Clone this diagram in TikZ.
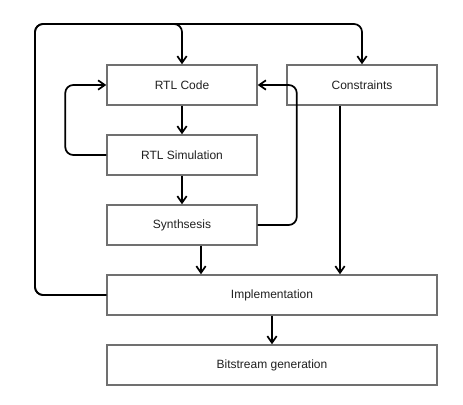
\documentclass[tikz,border=0pt]{standalone}
\usepackage{fontspec}
\setmainfont{Liberation Sans}
\usetikzlibrary{arrows.meta}
\definecolor{boxline}{HTML}{707070}
\definecolor{txt}{HTML}{202020}
\tikzset{
  flowbox/.style={draw=boxline, line width=1.1pt, rectangle, inner sep=0pt, text=txt, font=\fontsize{9}{11}\selectfont},
  conn/.style={draw=black, line width=1.3pt, rounded corners=6pt, -{Straight Barb[length=5pt,width=7pt,line width=1.3pt]}},
}
\begin{document}
\begin{tikzpicture}[x=0.75pt,y=-0.75pt]
\useasboundingbox (0,0) rectangle (463,404);
\node[flowbox, minimum width=150*0.75pt, minimum height=40*0.75pt] (code) at (182,85) {RTL Code};
\node[flowbox, minimum width=150*0.75pt, minimum height=40*0.75pt] (cons) at (362,85) {Constraints};
\node[flowbox, minimum width=150*0.75pt, minimum height=40*0.75pt] (sim) at (182,155) {RTL Simulation};
\node[flowbox, minimum width=150*0.75pt, minimum height=40*0.75pt] (syn) at (182,225) {Synthsesis};
\node[flowbox, minimum width=330*0.75pt, minimum height=40*0.75pt] (impl) at (272,295) {Implementation};
\node[flowbox, minimum width=330*0.75pt, minimum height=40*0.75pt] (bit) at (272,365) {Bitstream generation};
\coordinate (tl) at (35,24);
\draw[conn] (impl.west) -| (tl) -| (code.north);
\draw[conn] (impl.west) -| (tl) -| (cons.north);
\draw[conn] (code.south) -- (sim.north);
\draw[conn] (sim.south) -- (syn.north);
\draw[conn] (sim.west) -- ++(-41,0) |- (code.west);
\draw[conn] (syn.east) -- ++(39,0) |- (code.east);
\draw[conn] (syn.south -| 201,0) -- (impl.north -| 201,0);
\draw[conn] (cons.south -| 340,0) -- (impl.north -| 340,0);
\draw[conn] (impl.south) -- (bit.north);
\end{tikzpicture}
\end{document}
